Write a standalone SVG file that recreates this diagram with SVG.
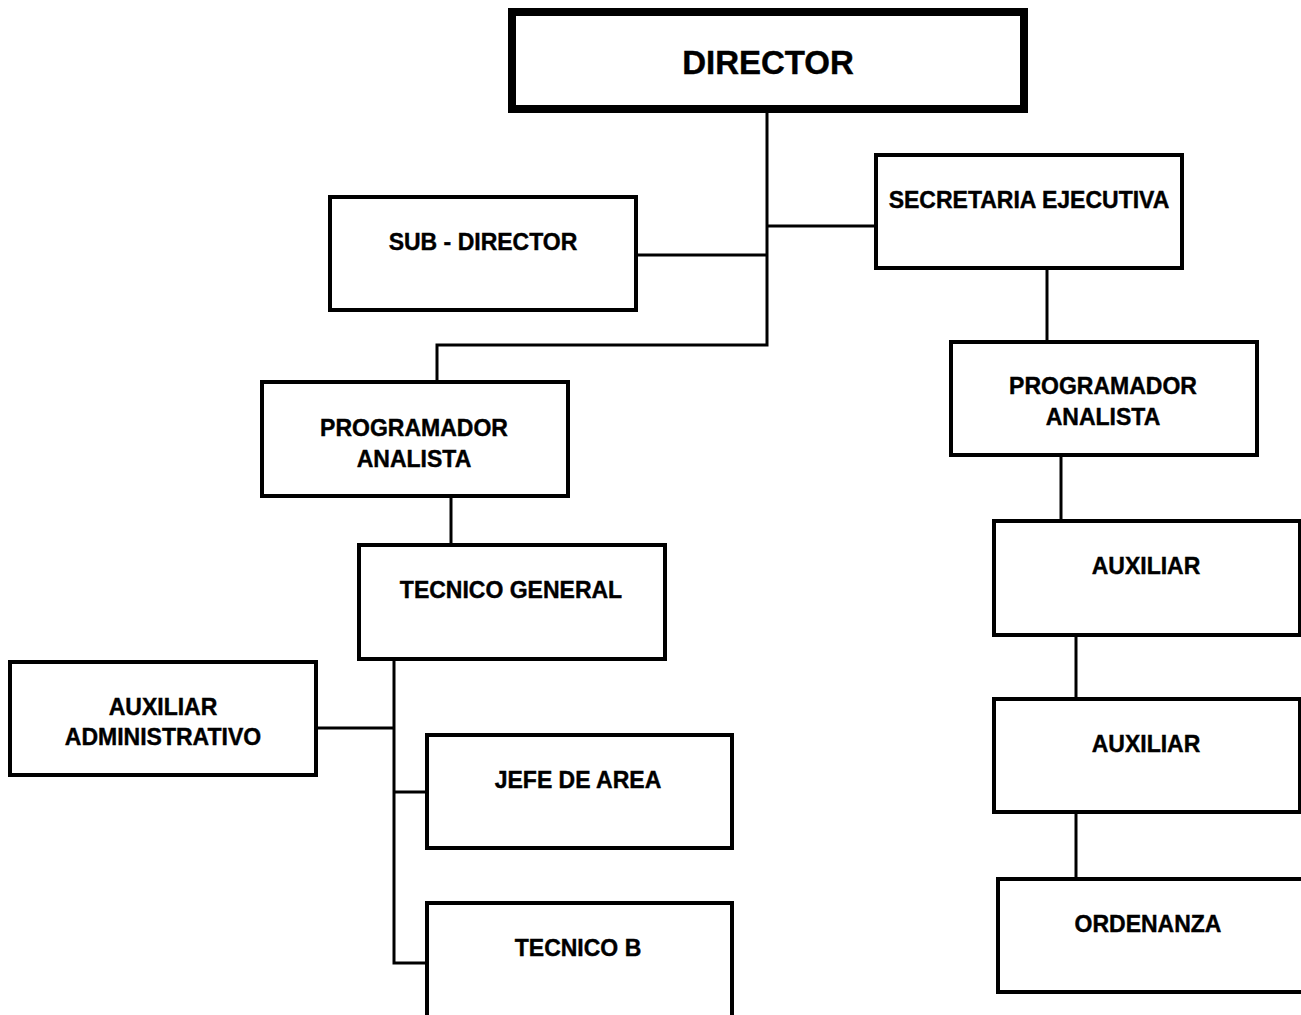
<svg xmlns="http://www.w3.org/2000/svg" width="1301" height="1015" viewBox="0 0 1301 1015">
<style>
.box{fill:#fff;stroke:#000;stroke-width:4}
.dir{fill:#fff;stroke:#000;stroke-width:8}
.t{font-family:"Liberation Sans",Arial,sans-serif;font-weight:bold;font-size:23px;text-anchor:middle;fill:#000;stroke:#000;stroke-width:0.4}
.c{stroke:#000;stroke-width:3;fill:none}
</style>
<rect width="1301" height="1015" fill="#fff"/>
<g id="connectors">
<path class="c" d="M767 112V345H437V382"/>
<path class="c" d="M767 226H876"/>
<path class="c" d="M636 255H767"/>
<path class="c" d="M1047 268V342"/>
<path class="c" d="M451 496V545"/>
<path class="c" d="M1061 455V521"/>
<path class="c" d="M1076 635V699"/>
<path class="c" d="M1076 812V879"/>
<path class="c" d="M394 659V963H427"/>
<path class="c" d="M316 728H394"/>
<path class="c" d="M394 792H427"/>
</g>
<g id="director"><rect class="dir" x="512" y="12" width="512" height="97"/><text class="t" x="768" y="74" style="font-size:33px">DIRECTOR</text></g>
<g id="secretaria"><rect class="box" x="876" y="155" width="306" height="113"/><text class="t" x="1029" y="208">SECRETARIA EJECUTIVA</text></g>
<g id="subdirector"><rect class="box" x="330" y="197" width="306" height="113"/><text class="t" x="483" y="250">SUB - DIRECTOR</text></g>
<g id="programador1"><rect class="box" x="262" y="382" width="306" height="114"/><text class="t" x="414" y="436">PROGRAMADOR</text><text class="t" x="414" y="467">ANALISTA</text></g>
<g id="programador2"><rect class="box" x="951" y="342" width="306" height="113"/><text class="t" x="1103" y="394">PROGRAMADOR</text><text class="t" x="1103" y="425">ANALISTA</text></g>
<g id="tecnicogeneral"><rect class="box" x="359" y="545" width="306" height="114"/><text class="t" x="511" y="598">TECNICO GENERAL</text></g>
<g id="auxadmin"><rect class="box" x="10" y="662" width="306" height="113"/><text class="t" x="163" y="715">AUXILIAR</text><text class="t" x="163" y="745">ADMINISTRATIVO</text></g>
<g id="jefearea"><rect class="box" x="427" y="735" width="305" height="113"/><text class="t" x="578" y="788">JEFE DE AREA</text></g>
<g id="tecnicob"><rect class="box" x="427" y="903" width="305" height="120"/><text class="t" x="578" y="956">TECNICO B</text></g>
<g id="auxiliar1"><rect class="box" x="994" y="521" width="306" height="114"/><text class="t" x="1146" y="574">AUXILIAR</text></g>
<g id="auxiliar2"><rect class="box" x="994" y="699" width="306" height="113"/><text class="t" x="1146" y="752">AUXILIAR</text></g>
<g id="ordenanza"><rect class="box" x="998" y="879" width="306" height="113"/><text class="t" x="1148" y="932">ORDENANZA</text></g>
</svg>
